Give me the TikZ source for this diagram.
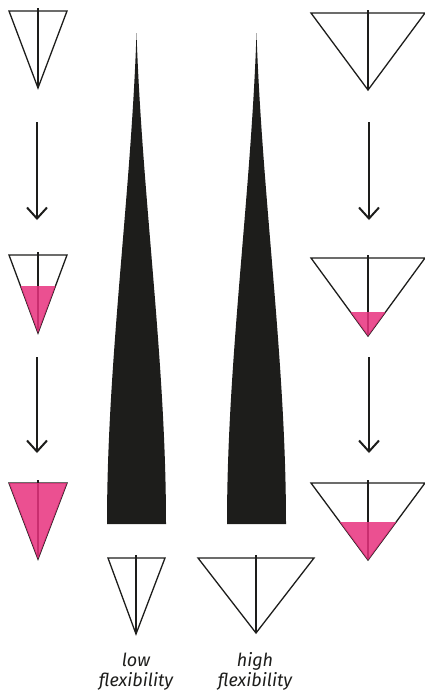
\documentclass[tikz,border=0pt]{standalone}
\usepackage{fontspec}
\setmainfont{Fira Sans}
\usetikzlibrary{arrows.meta}
\definecolor{ink}{RGB}{29,29,27}
\definecolor{fuchsia}{RGB}{232,49,126}
\tikzset{
  cone/.style={draw=ink, line width=1.3pt, line join=miter},
  axisline/.style={draw=ink, line width=1.3pt},
  liquid/.style={fill=fuchsia, fill opacity=0.85},
  flow/.style={draw=ink, line width=2pt, -{Straight Barb[length=11pt,width=20pt,line width=2pt]}},
  spike/.style={fill=ink},
  caption/.style={font=\itshape\fontsize{18}{20}\selectfont, text=ink, inner sep=0pt, anchor=base}
}
% a funnel: top-left corner, top-right corner, apex, top of axis line
\newcommand{\funnel}[4]{%
  \path[cone] (#1) -- (#2) -- (#3) -- cycle;
  \draw[axisline] (#4) -- (#3);
}
\begin{document}
\begin{tikzpicture}[x=1pt,y=-1pt]
\useasboundingbox (0,0) rectangle (424,691);

% ---- left column: narrow funnel filling up
\funnel{9,11}{67,11}{38,88}{38,8}
\funnel{9,255}{67,255}{38,333}{38,252}
\fill[liquid] ({38-29*(333-286)/78},286) -- ({38+29*(333-286)/78},286) -- (38,333) -- cycle;
\funnel{9,483}{67,483}{38,559}{38,480}
\fill[liquid] (9,483) -- (67,483) -- (38,559) -- cycle;

\coordinate (la1) at (37,122); \coordinate (lb1) at (37,220);
\coordinate (la2) at (37,357); \coordinate (lb2) at (37,453);
\draw[flow] (la1) -- (lb1);
\draw[flow] (la2) -- (lb2);

% ---- right column: wide funnel filling up
\funnel{311,13}{425,13}{368,90}{368,10}
\funnel{311,258}{425,258}{368,336}{368,255}
\fill[liquid] ({368-57*(336-312)/78},312) -- ({368+57*(336-312)/78},312) -- (368,336) -- cycle;
\funnel{311,483}{425,483}{368,560}{368,480}
\fill[liquid] ({368-57*(560-522)/77},522) -- ({368+57*(560-522)/77},522) -- (368,560) -- cycle;

\coordinate (ra1) at (369,122); \coordinate (rb1) at (369,220);
\coordinate (ra2) at (369,357); \coordinate (rb2) at (369,453);
\draw[flow] (ra1) -- (rb1);
\draw[flow] (ra2) -- (rb2);

% ---- the two spikes
\fill[spike] (136.5,33) .. controls (142,197) and (166,360) .. (166,524)
  -- (107,524) .. controls (107,360) and (131,197) .. (136.5,33) -- cycle;
\fill[spike] (256.5,33) .. controls (262,197) and (286,360) .. (286,524)
  -- (227,524) .. controls (227,360) and (251,197) .. (256.5,33) -- cycle;

% ---- bottom funnels with captions
\funnel{108,558}{165,558}{136,634}{136,555}
\funnel{198,558}{314,558}{256,633}{256,555}

\node[caption] (low1) at (136,666) {low};
\node[caption] (low2) at (136,686) {flexibility};
\node[caption] (high1) at (255,666) {high};
\node[caption] (high2) at (255,686) {flexibility};
\end{tikzpicture}
\end{document}
